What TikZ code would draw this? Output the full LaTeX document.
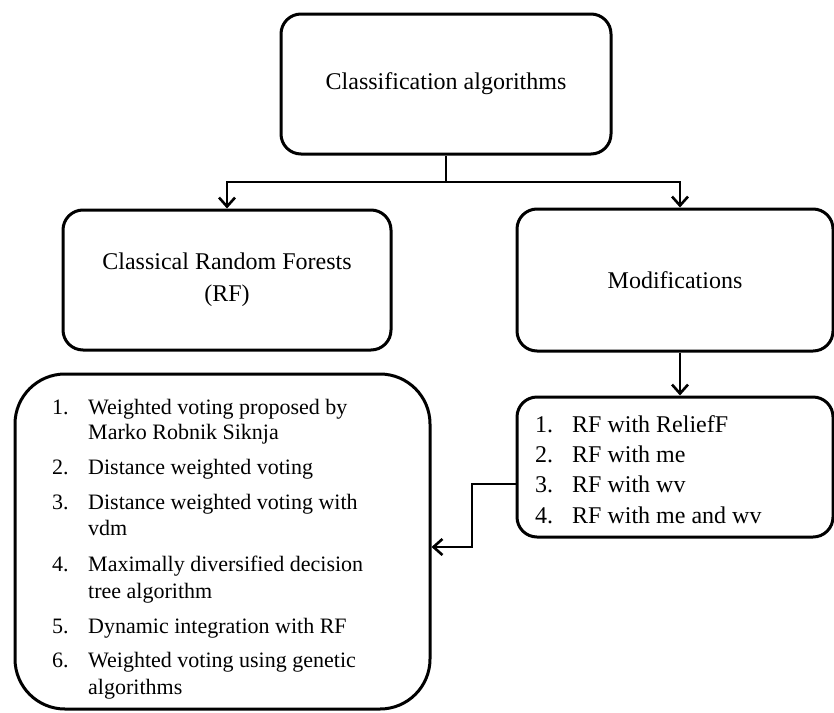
\documentclass[tikz,border=0pt]{standalone}
\usepackage{fontspec}
\setmainfont{Liberation Serif}
\usetikzlibrary{arrows.meta}
\tikzset{
  box/.style={draw, line width=3pt, rounded corners=20pt, align=center,
    inner sep=0pt, font=\fontsize{24}{32}\selectfont},
  conn/.style={line width=2.6pt},
  arr/.style={conn, -{Straight Barb[length=9pt,width=16pt]}},
  bigitem/.style={anchor=base west, inner sep=0pt, font=\fontsize{22}{26}\selectfont},
  rfitem/.style={anchor=base west, inner sep=0pt, font=\fontsize{24}{30}\selectfont}
}
\begin{document}
\begin{tikzpicture}[x=1pt,y=-1pt]
\useasboundingbox (0,0) rectangle (834,712);

% main boxes
\node[box, minimum width=330pt, minimum height=140pt] (top) at (446,84) {Classification algorithms};
\node[box, minimum width=328pt, minimum height=140pt] (crf) at (227,280) {Classical Random Forests\\(RF)};
\node[box, minimum width=316pt, minimum height=142pt] (mods) at (675,280) {Modifications};
\node[box, minimum width=316pt, minimum height=140pt] (rflist) at (675,467) {};
\node[box, rounded corners=50pt, minimum width=415pt, minimum height=335pt] (varlist) at (222.5,541.5) {};

% modified RF variants
\node[rfitem] (m1) at (535,432) {1.};
\node[rfitem] (m1t) at (572,432) {RF with ReliefF};
\node[rfitem] (m2) at (535,462) {2.};
\node[rfitem] (m2t) at (572,462) {RF with me};
\node[rfitem] (m3) at (535,492) {3.};
\node[rfitem] (m3t) at (572,492) {RF with wv};
\node[rfitem] (m4) at (535,523) {4.};
\node[rfitem] (m4t) at (572,523) {RF with me and wv};

% weighted voting variants
\node[bigitem] (v1) at (52,414) {1.};
\node[bigitem] (v1a) at (88,414) {Weighted voting proposed by};
\node[bigitem] (v1b) at (88,439) {Marko Robnik Siknja};
\node[bigitem] (v2) at (52,474) {2.};
\node[bigitem] (v2a) at (88,474) {Distance weighted voting};
\node[bigitem] (v3) at (52,509) {3.};
\node[bigitem] (v3a) at (88,509) {Distance weighted voting with};
\node[bigitem] (v3b) at (88,535) {vdm};
\node[bigitem] (v4) at (52,571) {4.};
\node[bigitem] (v4a) at (88,571) {Maximally diversified decision};
\node[bigitem] (v4b) at (88,598) {tree algorithm};
\node[bigitem] (v5) at (52,633) {5.};
\node[bigitem] (v5a) at (88,633) {Dynamic integration with RF};
\node[bigitem] (v6) at (52,667) {6.};
\node[bigitem] (v6a) at (88,667) {Weighted voting using genetic};
\node[bigitem] (v6b) at (88,694) {algorithms};

% connectors
\coordinate (split) at (446,182);
\draw[conn] (top.south) -- (split);
\draw[arr] (split) -| (crf.north);
\draw[arr] (split) -| ([xshift=5pt]mods.north);
\draw[arr] ([xshift=5pt]mods.south) -- ([xshift=5pt]rflist.north);
\coordinate (bend) at (472,484);
\coordinate (entry) at (430,547);
\draw[arr] (rflist.west |- bend) -- (bend) |- (varlist.east |- entry);
\end{tikzpicture}
\end{document}
